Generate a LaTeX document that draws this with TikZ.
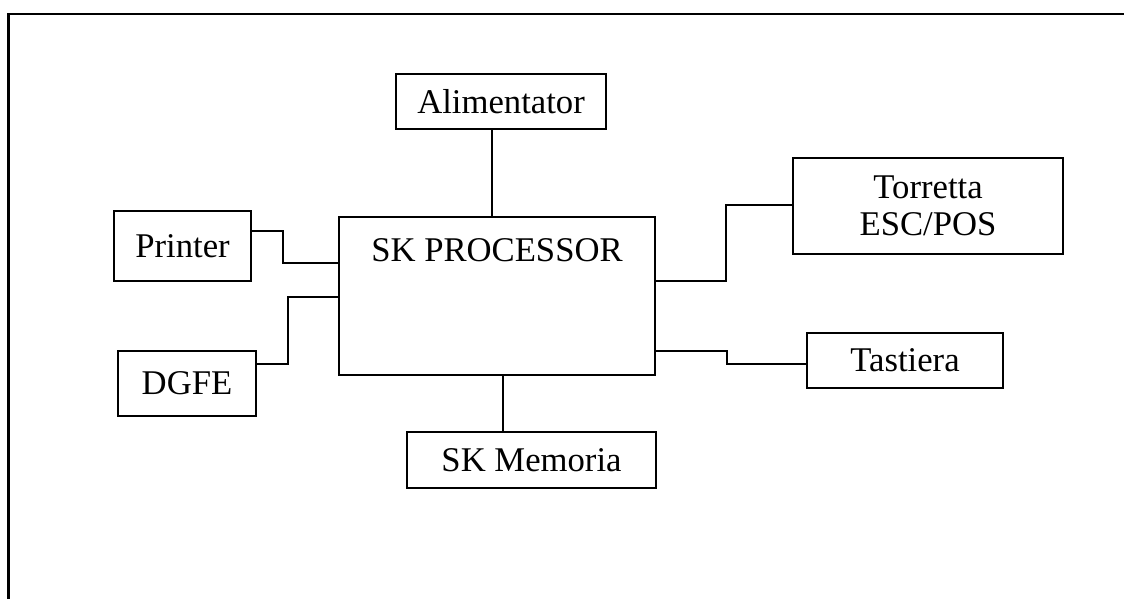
\documentclass[tikz,border=0pt]{standalone}
\usepackage{fontspec}
\setmainfont{Liberation Serif}
\begin{document}
\begin{tikzpicture}[x=0.75pt,y=-0.75pt,
  box/.style={draw,line width=1.5pt,inner sep=0pt,outer sep=0pt,
    font=\fontsize{26}{27.5}\selectfont,align=center},
  lbl/.style={inner sep=0pt,font=\fontsize{26}{27.5}\selectfont,align=center},
  conn/.style={line width=1.3pt,line join=miter}]
\useasboundingbox (0,0) rectangle (1124,599);
% outer frame (open at right and bottom)
\draw[line width=2pt,line join=miter] (8.5,599) -- (8.5,14) -- (1124,14);

\node[box,minimum width=102.75pt,minimum height=52.5pt] (printer) at (182.5,246) {Printer};
\node[box,minimum width=103.5pt,minimum height=48.75pt] (dgfe) at (187,383.5) {DGFE};
\node[box,minimum width=157.5pt,minimum height=41.25pt] (alim) at (501,101.5) {Alimentator};
\node[box,minimum width=237pt,minimum height=118.5pt] (proc) at (497,296) {};
\node[lbl,anchor=base] (proctext) at (497,261.7) {SK PROCESSOR};
\node[box,minimum width=186.75pt,minimum height=42pt] (mem) at (531.5,460) {SK Memoria};
\node[box,minimum width=202.5pt,minimum height=72pt] (torr) at (928,206) {Torretta\\ESC/POS};
\node[box,minimum width=147pt,minimum height=41.25pt] (tast) at (905,360.5) {Tastiera};

\coordinate (pA) at (282.7,230.7);
\coordinate (pB) at (282.7,262.7);
\coordinate (dA) at (287.7,364);
\coordinate (dB) at (287.7,296.7);
\coordinate (aX) at (492,0);
\coordinate (mX) at (503.3,0);
\coordinate (tA) at (726,281);
\coordinate (tB) at (726,205);
\coordinate (kA) at (726.7,350.7);
\coordinate (kB) at (726.7,364);

\draw[conn] (printer.east |- pA) -- (pA) -- (pB) -- (proc.west |- pB);
\draw[conn] (dgfe.east |- dA) -- (dA) -- (dB) -- (proc.west |- dB);
\draw[conn] (alim.south -| aX) -- (proc.north -| aX);
\draw[conn] (proc.south -| mX) -- (mem.north -| mX);
\draw[conn] (proc.east |- tA) -- (tA) -- (tB) -- (torr.west |- tB);
\draw[conn] (proc.east |- kA) -- (kA) -- (kB) -- (tast.west |- kB);
\end{tikzpicture}
\end{document}
